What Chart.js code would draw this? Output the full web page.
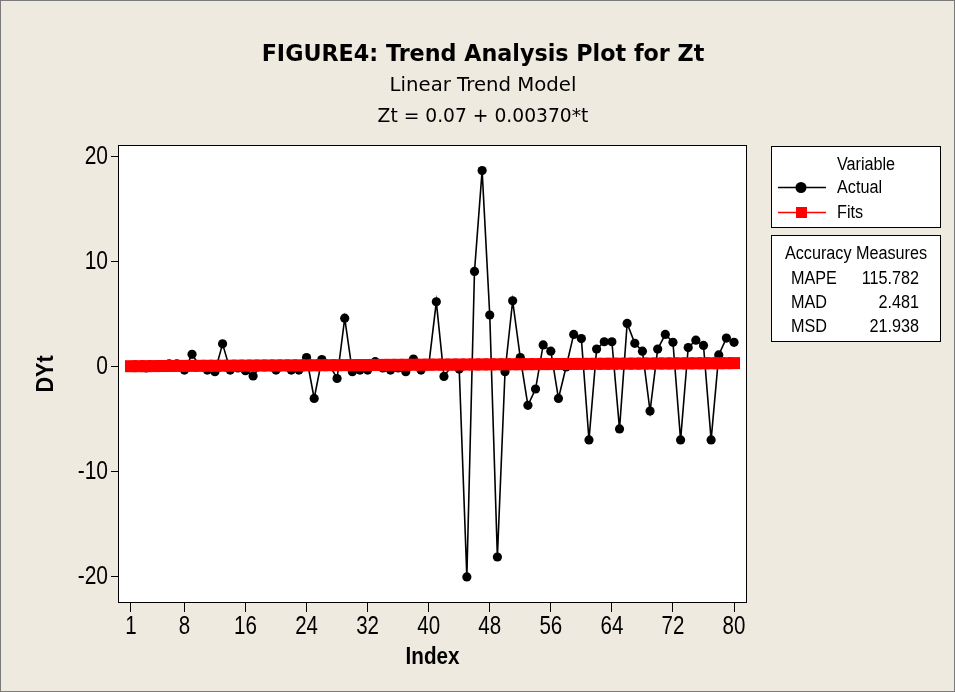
<!DOCTYPE html>
<html>
<head>
<meta charset="utf-8">
<script src="https://cdn.jsdelivr.net/npm/chart.js@4"></script>
<style>
  html,body{margin:0;padding:0;background:#EEEAE0;}
  canvas{display:block;}
</style>
</head>
<body>
<canvas id="c" width="955" height="692"></canvas>
<script>
// ---- data ----
const titleText = "FIGURE4: Trend Analysis Plot for Zt";
const subTitle1 = "Linear Trend Model";
const subTitle2 = "Zt = 0.07 + 0.00370*t";
const xTitle = "Index";
const yTitle = "DYt";
const xTickValues = [1, 8, 16, 24, 32, 40, 48, 56, 64, 72, 80];
const yTickValues = [-20, -10, 0, 10, 20];
const actual = [
  0.0, 0.1, -0.1, 0.0, 0.1, 0.3, 0.3, -0.3, 1.2, 0.1,
  -0.3, -0.45, 2.2, -0.3, -0.1, -0.35, -0.85, 0.1, 0.1, -0.3,
  0.1, -0.3, -0.3, 0.9, -3.0, 0.7, 0.2, -1.1, 4.65, -0.45,
  -0.3, -0.3, 0.5, -0.1, -0.3, -0.1, -0.45, 0.75, -0.3, 0.1,
  6.2, -0.9, 0.1, -0.2, -20.0, 9.1, 18.7, 4.95, -18.1, -0.45,
  6.3, 0.9, -3.65, -2.1, 2.1, 1.5, -3.0, 0.0, 3.1, 2.7,
  -6.95, 1.7, 2.4, 2.4, -5.9, 4.15, 2.25, 1.5, -4.2, 1.7,
  3.1, 2.35, -6.95, 1.85, 2.55, 2.05, -6.95, 1.15, 2.75, 2.35
];
const fits = [
  0.074, 0.077, 0.081, 0.085, 0.089, 0.092, 0.096, 0.100, 0.103, 0.107,
  0.111, 0.114, 0.118, 0.122, 0.126, 0.129, 0.133, 0.137, 0.140, 0.144,
  0.148, 0.151, 0.155, 0.159, 0.163, 0.166, 0.170, 0.174, 0.177, 0.181,
  0.185, 0.188, 0.192, 0.196, 0.200, 0.203, 0.207, 0.211, 0.214, 0.218,
  0.222, 0.225, 0.229, 0.233, 0.237, 0.240, 0.244, 0.248, 0.251, 0.255,
  0.259, 0.262, 0.266, 0.270, 0.274, 0.277, 0.281, 0.285, 0.288, 0.292,
  0.296, 0.299, 0.303, 0.307, 0.311, 0.314, 0.318, 0.322, 0.325, 0.329,
  0.333, 0.336, 0.340, 0.344, 0.348, 0.351, 0.355, 0.359, 0.362, 0.366
];
const legendTitle = "Variable";
const seriesNames = ["Actual", "Fits"];
const accuracyTitle = "Accuracy Measures";
const accuracyNames = ["MAPE", "MAD", "MSD"];
const accuracyValues = ["115.782", "2.481", "21.938"];

// ---- styling ----
const BG = "#EEEAE0";
const LIB = '"Liberation Sans", Arial, sans-serif';
const SANS = '"DejaVu Sans", Verdana, sans-serif';

const indexes = actual.map((_, i) => i + 1);
const actualPts = indexes.map((t, i) => ({x: t, y: actual[i]}));
const fitPts = indexes.map((t, i) => ({x: t, y: fits[i]}));

function fitSize(ctx, text, weight, family, target, base) {
  ctx.font = weight + " " + base + "px " + family;
  const w = ctx.measureText(text).width;
  return base * target / w;
}
// condensed text: draw with horizontal squeeze
function narrowText(ctx, text, x, y, align, sx) {
  ctx.save();
  ctx.translate(x, y);
  ctx.scale(sx, 1);
  ctx.textAlign = align;
  ctx.fillText(text, 0, 0);
  ctx.restore();
}

const decor = {
  id: "decor",
  beforeDraw(chart) {
    const ctx = chart.ctx, a = chart.chartArea;
    ctx.save();
    ctx.fillStyle = BG;
    ctx.fillRect(0, 0, chart.width, chart.height);
    ctx.fillStyle = "#ffffff";
    ctx.fillRect(a.left, a.top, a.right - a.left, a.bottom - a.top);
    ctx.restore();
  },
  afterDatasetsDraw(chart) {
    const ctx = chart.ctx, a = chart.chartArea;
    ctx.save();
    ctx.strokeStyle = "#000";
    ctx.lineWidth = 1;
    ctx.strokeRect(Math.round(a.left) + 0.5, Math.round(a.top) + 0.5,
      Math.round(a.right - a.left) - 1, Math.round(a.bottom - a.top) - 1);
    ctx.restore();
  },
  afterDraw(chart) {
    const ctx = chart.ctx, a = chart.chartArea;
    const xs = chart.scales.x, ys = chart.scales.y;
    ctx.save();
    // outer frame
    ctx.strokeStyle = "#7a7a7a";
    ctx.lineWidth = 1;
    ctx.strokeRect(0.5, 0.5, chart.width - 1, chart.height - 1);

    ctx.fillStyle = "#000";
    ctx.textBaseline = "middle";
    // tick labels, placed by the library's scales
    ctx.font = "25px " + LIB;
    xs.ticks.forEach(t => {
      narrowText(ctx, String(t.value), xs.getPixelForValue(t.value), 627, "center", 0.82);
    });
    ys.ticks.forEach(t => {
      narrowText(ctx, String(t.value), 108, ys.getPixelForValue(t.value), "right", 0.84);
    });

    ctx.textAlign = "center";
    // titles
    let s = fitSize(ctx, titleText, "bold", SANS, 443, 20);
    ctx.font = "bold " + s + "px " + SANS;
    ctx.fillText(titleText, 483, 55);
    s = fitSize(ctx, subTitle1, "normal", SANS, 187, 16);
    ctx.font = "normal " + s + "px " + SANS;
    ctx.fillText(subTitle1, 483, 86);
    s = fitSize(ctx, subTitle2, "normal", SANS, 211, 16);
    ctx.font = "normal " + s + "px " + SANS;
    ctx.fillText(subTitle2, 483, 117);

    // axis titles
    ctx.font = "bold 24px " + LIB;
    narrowText(ctx, xTitle, (a.left + a.right) / 2, 657, "center", 0.86);
    ctx.save();
    ctx.translate(46, (a.top + a.bottom) / 2);
    ctx.rotate(-Math.PI / 2);
    narrowText(ctx, yTitle, 0, 0, "center", 0.9);
    ctx.restore();

    // legend boxes
    ctx.fillStyle = "#fff";
    ctx.fillRect(771, 146, 170, 82);
    ctx.fillRect(771, 235, 170, 107);
    ctx.strokeStyle = "#000";
    ctx.lineWidth = 1;
    ctx.strokeRect(771.5, 146.5, 169, 81);
    ctx.strokeRect(771.5, 235.5, 169, 106);

    ctx.fillStyle = "#000";
    ctx.font = "18px " + LIB;
    const sq = 0.9;
    narrowText(ctx, legendTitle, 866, 165, "center", sq);
    narrowText(ctx, seriesNames[0], 837, 188, "left", sq);
    narrowText(ctx, seriesNames[1], 837, 213, "left", sq);
    // sample actual
    ctx.strokeStyle = "#000";
    ctx.lineWidth = 1.5;
    ctx.beginPath(); ctx.moveTo(778, 187.5); ctx.lineTo(826, 187.5); ctx.stroke();
    ctx.beginPath(); ctx.arc(801, 187.5, 5.5, 0, Math.PI * 2); ctx.fill();
    // sample fits
    ctx.strokeStyle = "#ff0000";
    ctx.fillStyle = "#ff0000";
    ctx.beginPath(); ctx.moveTo(778, 212.5); ctx.lineTo(826, 212.5); ctx.stroke();
    ctx.fillRect(796, 207, 11, 11);

    // accuracy box
    ctx.fillStyle = "#000";
    narrowText(ctx, accuracyTitle, 856, 254, "center", sq);
    for (let i = 0; i < accuracyNames.length; i++) {
      const y = 279 + i * 24;
      narrowText(ctx, accuracyNames[i], 791, y, "left", sq);
      narrowText(ctx, accuracyValues[i], 919, y, "right", sq);
    }
    ctx.restore();
  }
};

new Chart(document.getElementById("c"), {
  type: "line",
  data: {
    datasets: [
      {
        label: seriesNames[1],
        data: fitPts,
        order: 0,
        borderColor: "#ff0000",
        backgroundColor: "#ff0000",
        borderWidth: 1.5,
        pointStyle: "rect",
        pointRadius: 8.5,
        pointBorderWidth: 0,
        tension: 0
      },
      {
        label: seriesNames[0],
        data: actualPts,
        order: 1,
        borderColor: "#000000",
        backgroundColor: "#000000",
        borderWidth: 1.6,
        pointStyle: "circle",
        pointRadius: 4.6,
        pointBorderWidth: 0,
        tension: 0
      }
    ]
  },
  options: {
    responsive: false,
    animation: false,
    devicePixelRatio: 1,
    layout: {padding: {left: 0, top: 145, right: 208, bottom: 0}},
    plugins: {legend: {display: false}, title: {display: false}, tooltip: {enabled: false}},
    scales: {
      x: {
        type: "linear",
        min: -0.7,
        max: 81.7,
        afterFit(s) { s.height = 89; },
        afterBuildTicks(s) { s.ticks = xTickValues.map(v => ({value: v})); },
        grid: {drawOnChartArea: false, drawTicks: true, tickLength: 9, tickColor: "#000", tickWidth: 1},
        border: {display: false},
        ticks: {display: false, autoSkip: false}
      },
      y: {
        type: "linear",
        min: -22.48,
        max: 21.14,
        afterFit(s) { s.width = 118; },
        afterBuildTicks(s) { s.ticks = yTickValues.map(v => ({value: v})); },
        grid: {drawOnChartArea: false, drawTicks: true, tickLength: 7, tickColor: "#000", tickWidth: 1},
        border: {display: false},
        ticks: {display: false, autoSkip: false}
      }
    }
  },
  plugins: [decor]
});
</script>
</body>
</html>
